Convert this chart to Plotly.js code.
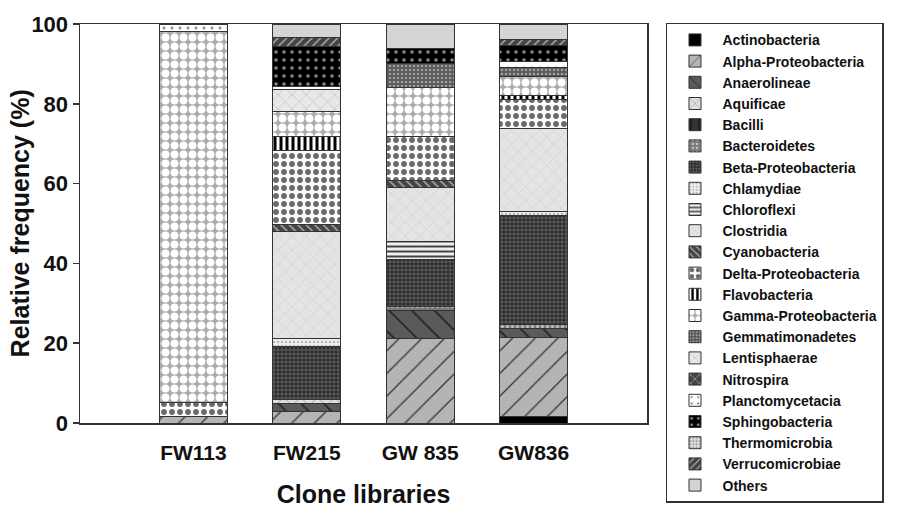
<!DOCTYPE html>
<html>
<head>
<meta charset="utf-8">
<script src="https://cdn.plot.ly/plotly-3.0.1.min.js"></script>
<style>html,body{margin:0;padding:0;background:#fff;}#chart{width:897px;height:508px;}</style>
</head>
<body>
<div id="chart"></div>
<script>
// ---- data ----
const categories = ['FW113', 'FW215', 'GW 835', 'GW836'];
const taxa = ['Actinobacteria', 'Alpha-Proteobacteria', 'Anaerolineae', 'Aquificae', 'Bacilli',
  'Bacteroidetes', 'Beta-Proteobacteria', 'Chlamydiae', 'Chloroflexi', 'Clostridia',
  'Cyanobacteria', 'Delta-Proteobacteria', 'Flavobacteria', 'Gamma-Proteobacteria',
  'Gemmatimonadetes', 'Lentisphaerae', 'Nitrospira', 'Planctomycetacia', 'Sphingobacteria',
  'Thermomicrobia', 'Verrucomicrobiae', 'Others'];

const actinobacteria   = [0,    0,    0,    1.6];
const alphaProteo      = [1.7,  2.8,  21.2, 19.8];
const anaerolineae     = [0,    2.1,  7.1,  2.3];
const aquificae        = [0,    0.9,  0,    0];
const bacilli          = [0,    0,    0,    0];
const bacteroidetes    = [0,    0,    0.8,  0.9];
const betaProteo       = [0,    13.3, 11.8, 27.5];
const chlamydiae       = [0,    2.0,  0,    1.0];
const chloroflexi      = [0,    0,    4.5,  0];
const clostridia       = [0,    27.0, 13.6, 20.8];
const cyanobacteria    = [0,    1.7,  1.9,  0];
const deltaProteo      = [3.4,  18.6, 10.9, 7.1];
const flavobacteria    = [0,    3.4,  0,    1.2];
const gammaProteo      = [93.1, 6.2,  12.2, 4.6];
const gemmatimonadetes = [0,    0,    6.2,  2.2];
const lentisphaerae    = [0,    5.5,  0,    0];
const nitrospira       = [0,    0,    0,    0];
const planctomycetacia = [1.8,  0.8,  0,    1.5];
const sphingobacteria  = [0,    10.0, 3.7,  4.2];
const thermomicrobia   = [0,    0,    0,    0];
const verrucomicrobiae = [0,    2.3,  0,    1.3];
const others           = [0,    3.4,  6.1,  4.0];

const seriesValues = [actinobacteria, alphaProteo, anaerolineae, aquificae, bacilli,
  bacteroidetes, betaProteo, chlamydiae, chloroflexi, clostridia, cyanobacteria,
  deltaProteo, flavobacteria, gammaProteo, gemmatimonadetes, lentisphaerae, nitrospira,
  planctomycetacia, sphingobacteria, thermomicrobia, verrucomicrobiae, others];

const yTicks = [0, 20, 40, 60, 80, 100];
const xTitle = 'Clone libraries';
const yTitle = 'Relative frequency (%)';

// ---- styles (fill patterns) ----
const styles = [
  {bg: '#000000'},
  {bg: '#b4b4b4', shape: '/', fg: '#333333', size: 16, sol: 0.08},
  {bg: '#5a5a5a', shape: '\\', fg: '#222222', size: 16, sol: 0.1},
  {bg: '#e0e0e0', shape: 'x', fg: '#555555', size: 12, sol: 0.08},
  {bg: '#333333', shape: '|', fg: '#111111', size: 12, sol: 0.15},
  {bg: '#7a7a7a', shape: '.', fg: '#c0c0c0', size: 5, sol: 0.3},
  {bg: '#2a2a2a', shape: '+', fg: '#7a7a7a', size: 4, sol: 0.3},
  {bg: '#efefef', shape: '.', fg: '#b8b8b8', size: 4, sol: 0.3},
  {bg: '#f0f0f0', shape: '-', fg: '#444444', size: 5, sol: 0.4},
  {bg: '#e4e4e4', shape: 'x', fg: '#cdcdcd', size: 10, sol: 0.12},
  {bg: '#444444', shape: '\\', fg: '#b0b0b0', size: 6, sol: 0.25},
  {bg: '#ffffff', shape: '.', fg: '#6a6a6a', size: 8, sol: 0.42},
  {bg: '#ffffff', shape: '|', fg: '#000000', size: 6, sol: 0.5},
  {bg: '#ababab', shape: '.', fg: '#ffffff', size: 9, sol: 0.6},
  {bg: '#5a5a5a', shape: '.', fg: '#a0a0a0', size: 4, sol: 0.3},
  {bg: '#e8e8e8', shape: 'x', fg: '#c4c4c4', size: 10, sol: 0.15},
  {bg: '#444444', shape: 'x', fg: '#aaaaaa', size: 8, sol: 0.2},
  {bg: '#ffffff', shape: '.', fg: '#8a8a8a', size: 8, sol: 0.1},
  {bg: '#000000', shape: '.', fg: '#8a8a8a', size: 8, sol: 0.15},
  {bg: '#dcdcdc', shape: '.', fg: '#9a9a9a', size: 4, sol: 0.3},
  {bg: '#444444', shape: '/', fg: '#aaaaaa', size: 6, sol: 0.25},
  {bg: '#d4d4d4'}
];

const traces = taxa.map((name, i) => {
  const s = styles[i];
  const marker = {color: s.bg, line: {color: '#333333', width: 1}};
  if (s.shape) {
    marker.pattern = {shape: s.shape, fgcolor: s.fg, bgcolor: s.bg, size: s.size,
      solidity: s.sol, fillmode: 'replace'};
  }
  return {type: 'bar', name: name, x: categories, y: seriesValues[i], width: 0.6,
    legendgroup: 'g' + i, marker: marker, hoverinfo: 'skip'};
});

const fam = 'Liberation Sans, Arial, sans-serif';

const layout = {
  width: 897, height: 508,
  margin: {l: 80, r: 250, t: 24, b: 85, autoexpand: false},
  barmode: 'stack',
  paper_bgcolor: '#ffffff', plot_bgcolor: '#ffffff',
  font: {family: fam, color: '#111111'},
  showlegend: true,
  xaxis: {
    type: 'category', range: [-1, 4],
    showline: true, mirror: true, linecolor: '#333333', linewidth: 1.5,
    ticks: '', showgrid: false, zeroline: false, automargin: false,
    ticklabelstandoff: 10,
    tickfont: {family: fam, size: 21, weight: 'bold', color: '#111'},
    title: {text: xTitle, font: {family: fam, size: 25, weight: 'bold', color: '#111'}, standoff: 26}
  },
  yaxis: {
    range: [0, 100], tickvals: yTicks, ticktext: yTicks.map(String),
    showline: true, mirror: true, linecolor: '#333333', linewidth: 1.5,
    ticks: 'outside', ticklen: 6, tickwidth: 1.5, tickcolor: '#333333',
    showgrid: false, zeroline: false, automargin: false,
    tickfont: {family: fam, size: 22, weight: 'bold', color: '#111'}
  },
  annotations: [{
    text: yTitle, xref: 'paper', yref: 'paper', x: -0.106, y: 0.5,
    xanchor: 'center', yanchor: 'middle', textangle: -90, showarrow: false,
    font: {family: fam, size: 25, weight: 'bold', color: '#111'}
  }],
  legend: {
    x: 1.0335, xanchor: 'left', y: 1.003, yanchor: 'top',
    traceorder: 'normal', maxheight: 1000,
    bordercolor: '#333333', borderwidth: 1.5, bgcolor: '#ffffff',
    font: {family: fam, size: 14, weight: 'bold', color: '#111'},
    itemwidth: 45, tracegroupgap: 0
  }
};

Plotly.newPlot('chart', traces, layout, {displayModeBar: false, staticPlot: true});
</script>
</body>
</html>
